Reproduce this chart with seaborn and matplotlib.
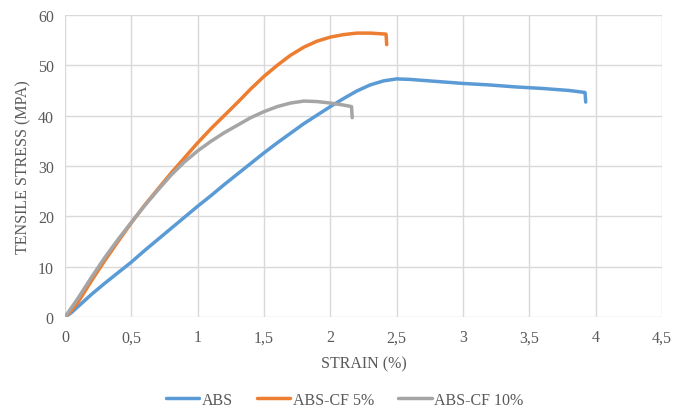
import matplotlib
matplotlib.use("Agg")
import matplotlib.pyplot as plt
import seaborn as sns
import pandas as pd

# ---- data ----
abs_strain = [0.0, 0.05, 0.1, 0.2, 0.3, 0.4, 0.5, 0.6, 0.7, 0.8, 0.9, 1.0, 1.1, 1.2, 1.3, 1.4, 1.5,
              1.6, 1.7, 1.8, 1.9, 2.0, 2.1, 2.2, 2.3, 2.4, 2.5, 2.6, 2.7, 2.8, 2.9, 3.0, 3.2, 3.4,
              3.6, 3.8, 3.92, 3.925]
abs_stress = [0.0, 0.9, 2.1, 4.5, 6.7, 8.8, 10.9, 13.2, 15.4, 17.6, 19.8, 22.0, 24.1, 26.3, 28.4, 30.5, 32.6,
              34.6, 36.5, 38.4, 40.1, 41.8, 43.4, 44.9, 46.1, 46.9, 47.3, 47.2, 47.0, 46.8, 46.6, 46.4, 46.1, 45.7,
              45.4, 45.0, 44.6, 42.7]

cf5_strain = [0.0, 0.05, 0.1, 0.2, 0.3, 0.4, 0.5, 0.6, 0.7, 0.8, 0.9, 1.0, 1.1, 1.2, 1.3, 1.4, 1.5,
              1.6, 1.7, 1.8, 1.9, 2.0, 2.1, 2.2, 2.3, 2.42, 2.425]
cf5_stress = [0.0, 1.3, 3.0, 7.2, 11.2, 15.0, 18.7, 22.2, 25.4, 28.6, 31.6, 34.6, 37.4, 40.0, 42.6, 45.3, 47.8,
              50.0, 52.0, 53.6, 54.8, 55.6, 56.1, 56.4, 56.4, 56.2, 54.1]

cf10_strain = [0.0, 0.05, 0.1, 0.2, 0.3, 0.4, 0.5, 0.6, 0.7, 0.8, 0.9, 1.0, 1.1, 1.2, 1.3, 1.4, 1.5,
               1.6, 1.7, 1.8, 1.9, 2.0, 2.1, 2.16, 2.165]
cf10_stress = [0.0, 1.9, 3.8, 7.9, 11.8, 15.4, 18.8, 22.1, 25.2, 28.2, 30.8, 33.0, 34.9, 36.6, 38.1, 39.6, 40.8,
               41.8, 42.5, 42.9, 42.8, 42.5, 42.1, 41.8, 39.6]

series_names = ["ABS", "ABS-CF 5%", "ABS-CF 10%"]
series_colors = ["#5B9BD5", "#ED7D31", "#A5A5A5"]

x_ticks = [0, 0.5, 1, 1.5, 2, 2.5, 3, 3.5, 4, 4.5]
x_tick_labels = ["0", "0,5", "1", "1,5", "2", "2,5", "3", "3,5", "4", "4,5"]
y_ticks = [0, 10, 20, 30, 40, 50, 60]
y_tick_labels = ["0", "10", "20", "30", "40", "50", "60"]

frames = []
for name, xs, ys in zip(series_names,
                        [abs_strain, cf5_strain, cf10_strain],
                        [abs_stress, cf5_stress, cf10_stress]):
    frames.append(pd.DataFrame({"strain": xs, "stress": ys, "series": name}))
df = pd.concat(frames, ignore_index=True)

sns.set_theme(style="white")
plt.rcParams["font.family"] = ["Liberation Serif", "DejaVu Serif"]
text_color = "#595959"

fig = plt.figure(figsize=(6.89, 4.14), dpi=100)
ax = fig.add_axes([0.0943, 0.2319, 0.8665, 0.7295])

for name, color in zip(series_names, series_colors):
    sub = df[df["series"] == name]
    sns.lineplot(data=sub, x="strain", y="stress", sort=False, estimator=None,
                 color=color, linewidth=2.5, ax=ax, label=name)

ax.set_xlim(0, 4.5)
ax.set_ylim(0, 60)
ax.set_xticks(x_ticks)
ax.set_xticklabels(x_tick_labels)
ax.set_yticks(y_ticks)
ax.set_yticklabels(y_tick_labels)
ax.grid(True, color="#D9D9D9", linewidth=1.0)
ax.set_axisbelow(True)
for s in ax.spines.values():
    s.set_visible(False)
ax.tick_params(axis="both", length=0, labelsize=11.5, colors=text_color, pad=8)
ax.tick_params(axis="x", pad=9)

ax.set_xlabel("STRAIN (%)", fontsize=11.5, color=text_color, labelpad=7)
ax.set_ylabel("TENSILE STRESS (MPA)", fontsize=11.5, color=text_color, labelpad=5)

if ax.legend_:
    ax.legend_.remove()
handles, labels = ax.get_legend_handles_labels()
leg = fig.legend(handles, labels, loc="center", bbox_to_anchor=(0.50, 0.032), ncol=3,
                 frameon=False, fontsize=11.5, handlelength=2.1, handletextpad=0.15,
                 columnspacing=1.5)
for t in leg.get_texts():
    t.set_color(text_color)

fig.savefig("out.png", dpi=100)
